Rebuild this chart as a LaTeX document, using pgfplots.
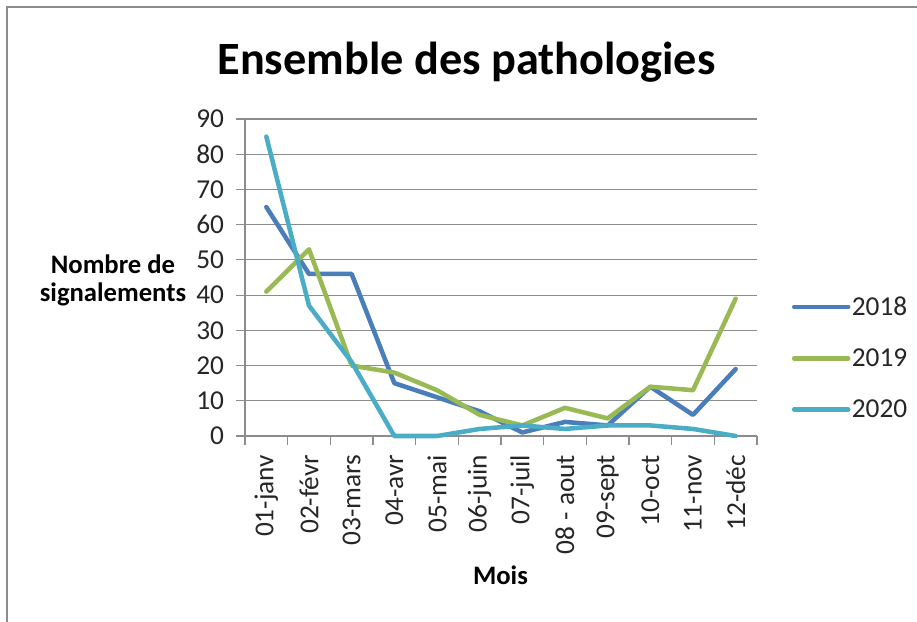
\documentclass[border=0pt]{standalone}
\usepackage{fontspec}
\setmainfont{Carlito}
\usepackage{pgfplots}
\pgfplotsset{compat=1.18}

\definecolor{c2018}{HTML}{4A7EBB}
\definecolor{c2019}{HTML}{98B954}
\definecolor{c2020}{HTML}{4BACC6}
\definecolor{gridc}{HTML}{8C8C8C}

% 1 px of the reference = 0.75pt; axis box 512 x 317 px
\begin{document}
\begin{tikzpicture}
\begin{axis}[
    at={(0pt,0pt)}, anchor=south west,
    scale only axis, width=384pt, height=237.75pt,
    xmin=0.5, xmax=12.5, ymin=0, ymax=90,
    axis x line*=bottom, axis y line*=left,
    axis line style={gridc, line width=0.9pt},
    ymajorgrids, major grid style={gridc, line width=0.9pt},
    tick align=outside, major tick length=7pt,
    tick style={gridc, line width=0.9pt},
    ytick={0,10,...,90},
    xtick={0.5,1.5,...,12.5},
    x tick label as interval,
    xticklabels={01-janv,02-févr,03-mars,04-avr,05-mai,06-juin,07-juil,08 - aout,09-sept,10-oct,11-nov,12-déc},
    tick label style={font=\fontsize{20.5}{24}\selectfont, text=black!85},
    x tick label style={rotate=90, anchor=east, inner sep=0pt, xshift=-7pt},
    y tick label style={inner sep=0pt, xshift=-8.5pt},
    /pgf/number format/assume math mode=true,
    legend image code/.code={\draw[#1] (0pt,0pt) -- (40.5pt,0pt);},
    legend style={draw=none, fill=none, inner sep=0pt,
        at={(1,0.246)}, anchor=west, xshift=26pt,
        font=\fontsize{20.5}{24}\selectfont,
        nodes={inner sep=0pt, text=black!85},
        /tikz/column sep=1pt, /tikz/row sep=23.5pt},
    legend cell align=left,
    every axis plot/.append style={line width=3.4pt, line join=round, line cap=round},
    clip=false,
]
\addplot[c2018] coordinates {(1,65) (2,46) (3,46) (4,15) (5,11) (6,7) (7,1) (8,4) (9,3) (10,14) (11,6) (12,19)};
\addlegendentry{2018}
\addplot[c2019] coordinates {(1,41) (2,53) (3,20) (4,18) (5,13) (6,6) (7,3) (8,8) (9,5) (10,14) (11,13) (12,39)};
\addlegendentry{2019}
\addplot[c2020] coordinates {(1,85) (2,37) (3,21) (4,0) (5,0) (6,2) (7,3) (8,2) (9,3) (10,3) (11,2) (12,0)};
\addlegendentry{2020}
\end{axis}

% title and axis titles
\node[anchor=base] at (166.1pt,270.75pt) {\fontsize{34.7}{42}\selectfont\bfseries Ensemble des pathologies};
\node[anchor=base] at (-99pt,122pt) {\fontsize{20}{24}\selectfont\bfseries Nombre de};
\node[anchor=base] at (-99pt,100.7pt) {\fontsize{20}{24}\selectfont\bfseries signalements};
\node[anchor=base] at (191.6pt,-111pt) {\fontsize{20}{24}\selectfont\bfseries Mois};

% chart area border (left and top visible)
\draw[gridc, line width=1.5pt] (-178.5pt,-150pt) -- (-178.5pt,321.75pt) -- (520pt,321.75pt);

\pgfresetboundingbox
\path[use as bounding box] (-183.75pt,-138.75pt) rectangle (504pt,327pt);
\end{tikzpicture}
\end{document}
